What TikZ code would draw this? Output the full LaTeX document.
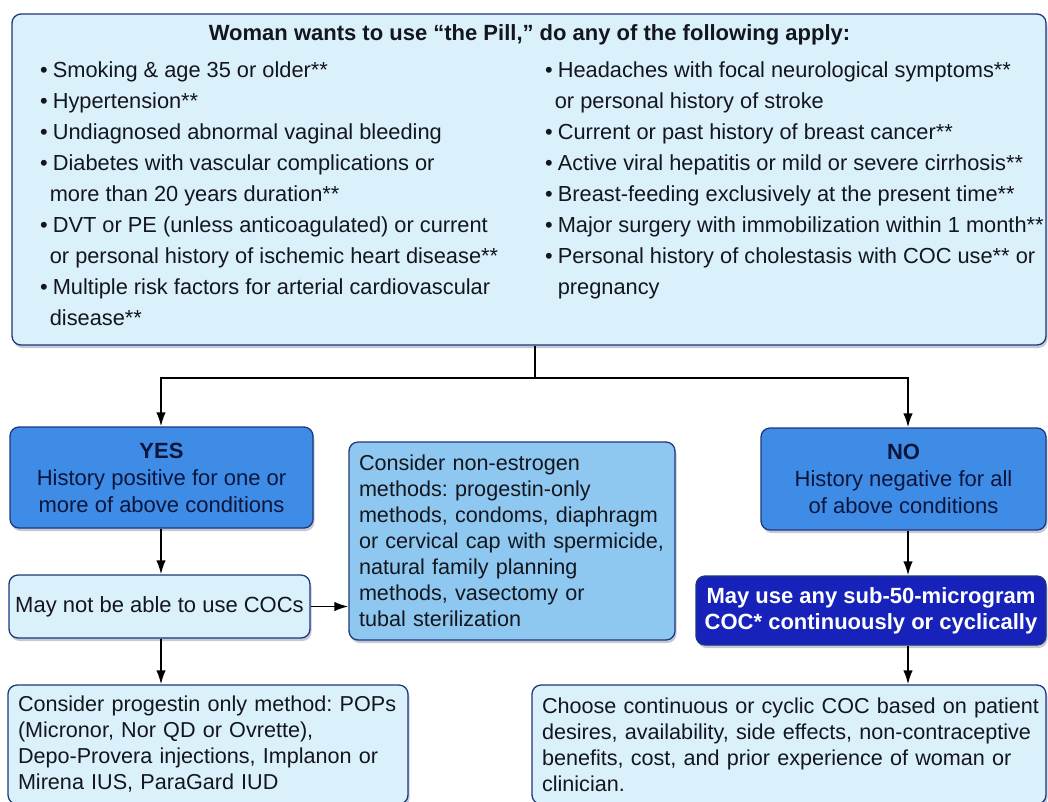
\documentclass[tikz,border=0pt]{standalone}
\usepackage{fontspec}
\setmainfont{Liberation Sans}
\usetikzlibrary{arrows.meta,shadows,calc}
\definecolor{lightfill}{RGB}{218,240,251}
\definecolor{midfill}{RGB}{142,200,240}
\definecolor{bluefill}{RGB}{62,140,230}
\definecolor{navyfill}{RGB}{22,34,185}
\definecolor{bordercol}{RGB}{30,55,125}
\definecolor{shadowcol}{RGB}{90,100,135}
\definecolor{txt}{RGB}{20,22,30}
\definecolor{bluetxt}{RGB}{12,22,60}
\frenchspacing
\begin{document}
\frenchspacing
\begin{tikzpicture}[x=1pt,y=-1pt,
  box/.style={draw=bordercol, line width=1.3pt, rounded corners=9pt,
    drop shadow={shadow xshift=1.5pt, shadow yshift=-3pt, opacity=0.35, fill=shadowcol},
    inner sep=0pt, text=txt},
  lightbox/.style={box, fill=lightfill},
  midbox/.style={box, fill=midfill},
  bluebox/.style={box, fill=bluefill, text=bluetxt, align=center,
    font=\fontsize{22}{27}\selectfont},
  navybox/.style={box, fill=navyfill, text=white, align=center,
    font=\bfseries\fontsize{22}{26}\selectfont},
  leftbox/.style={inner xsep=10pt, align=left, font=\fontsize{21.6}{26}\selectfont},
  coltext/.style={anchor=base west, inner sep=0pt, text=txt, font=\fontsize{21.8}{31}\selectfont},
  arr/.style={line width=1.8pt, -{Latex[length=14pt,width=9.5pt]}},
  ln/.style={line width=1.8pt}
]
\useasboundingbox (0,0) rectangle (1048,801);
\clip (0,0) rectangle (1048,801);

% top box
\node[lightbox, minimum width=1034pt, minimum height=331pt] (top) at (529,179.5) {};
\node[anchor=base, inner sep=0pt, text=txt, font=\bfseries\fontsize{22}{26}\selectfont] (title) at (529.5,40)
  {Woman wants to use “the Pill,” do any of the following apply:};
\node[coltext] (lcol) at (40,77) {\begin{tabular}[t]{@{}l@{\hspace{5pt}}l@{}}
•&Smoking \& age 35 or older**\\
•&Hypertension**\\
•&Undiagnosed abnormal vaginal bleeding\\
•&Diabetes with vascular complications or\\
 &\hspace{-3pt}more than 20 years duration**\\
•&DVT or PE (unless anticoagulated) or current\\
 &\hspace{-3pt}or personal history of ischemic heart disease**\\
•&Multiple risk factors for arterial cardiovascular\\
 &\hspace{-3pt}disease**
\end{tabular}};
\node[coltext] (rcol) at (545,77) {\begin{tabular}[t]{@{}l@{\hspace{5pt}}l@{}}
•&Headaches with focal neurological symptoms**\\
 &\hspace{-3pt}or personal history of stroke\\
•&Current or past history of breast cancer**\\
•&Active viral hepatitis or mild or severe cirrhosis**\\
•&Breast-feeding exclusively at the present time**\\
•&Major surgery with immobilization within 1 month**\\
•&Personal history of cholestasis with COC use** or\\
 &pregnancy
\end{tabular}};

% decision boxes
\node[bluebox, minimum width=303pt, minimum height=101pt] (yes) at (161.5,477.5)
  {\textbf{YES}\\History positive for one or\\more of above conditions};
\node[bluebox, minimum width=285pt, minimum height=102pt] (no) at (903.5,479)
  {\textbf{NO}\\History negative for all\\of above conditions};

\node[lightbox, minimum width=301pt, minimum height=63pt, font=\fontsize{22}{26}\selectfont] (maynot) at (159.5,606.5)
  {May not be able to use COCs};
\node[midbox, leftbox, text width=306pt, minimum height=198pt] (noest) at (512,541)
  {\mbox{Consider non-estrogen}\\ \mbox{methods: progestin-only}\\ \mbox{methods, condoms, diaphragm}\\ \mbox{or cervical cap with spermicide,}\\ \mbox{natural family planning}\\ \mbox{methods, vasectomy or}\\ \mbox{tubal sterilization}};
\node[navybox, minimum width=350pt, minimum height=69pt] (mayuse) at (871,610.5)
  {May use any sub-50-microgram\\COC* continuously or cyclically};

\node[lightbox, leftbox, text width=380pt, minimum height=119pt] (prog) at (208,744.5)
  {\mbox{Consider progestin only method: POPs}\\ \mbox{(Micronor, Nor QD or Ovrette),}\\ \mbox{Depo-Provera injections, Implanon or}\\ \mbox{Mirena IUS, ParaGard IUD}};
\node[lightbox, leftbox, text width=494pt, minimum height=119pt] (choose) at (789,744.5)
  {\mbox{Choose continuous or cyclic COC based on patient}\\ \mbox{desires, availability, side effects, non-contraceptive}\\ \mbox{benefits, cost, and prior experience of woman or}\\ \mbox{clinician.}};

% connectors
\coordinate (split) at (535,378);
\coordinate (lx) at (161,0);
\coordinate (nx) at (908,0);
\draw[ln] (top.south -| split) -- (split);
\draw[arr] (split) -| (yes.north -| lx);
\draw[arr] (split) -| (no.north -| nx);
\draw[arr] (yes.south -| lx) -- (maynot.north -| lx);
\draw[arr] (maynot.east) -- (maynot.east -| noest.west);
\draw[arr] (maynot.south -| lx) -- (prog.north -| lx);
\draw[arr] (no.south -| nx) -- (mayuse.north -| nx);
\draw[arr] (mayuse.south -| nx) -- (choose.north -| nx);
\end{tikzpicture}
\end{document}
